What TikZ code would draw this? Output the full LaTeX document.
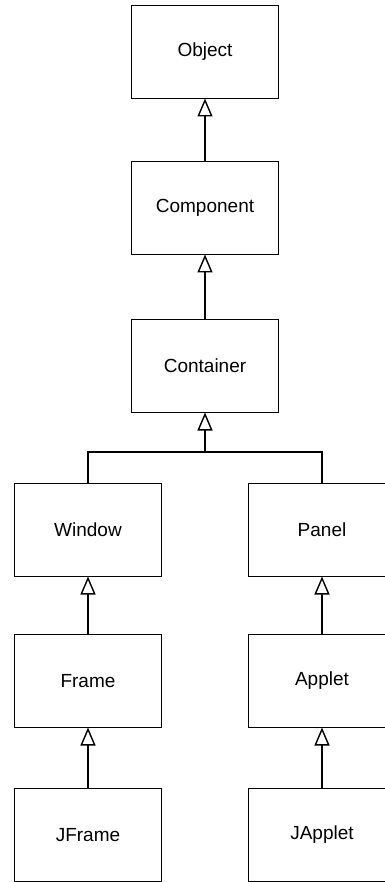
\documentclass[tikz,border=0pt]{standalone}
\usepackage{fontspec}
\setmainfont{Liberation Sans}
\usetikzlibrary{arrows.meta, positioning}
\tikzset{
    cls/.style={draw, rectangle, line width=1.4pt, minimum width=147pt, minimum height=93pt, inner sep=0pt, outer sep=0pt, font=\fontsize{19}{22}\selectfont},
    inherit/.style={-{Triangle[open, length=18pt, width=15pt, line width=1.4pt]}, line width=1.4pt}
}

\begin{document}
\begin{tikzpicture}[x=1pt, y=-1pt, node distance=63pt and 60pt]

    \useasboundingbox (0,0) rectangle (384,882);

    % main column
    \node[cls] (object) at (205,52) {Object};
    \node[cls, below=63pt of object] (component) {Component};
    \node[cls, below=65pt of component] (container) {Container};

    % left and right branches
    \node[cls] (window) at (88,530) {Window};
    \node[cls] (panel) at (322,530) {Panel};
    \node[cls, below=58pt of window] (frame) {Frame};
    \node[cls, below=58pt of panel] (applet) {Applet};
    \node[cls, below=61pt of frame] (jframe) {JFrame};
    \node[cls, below=61pt of applet] (japplet) {JApplet};

    % inheritance
    \draw[inherit] (component) -- (object);
    \draw[inherit] (container) -- (component);

    \coordinate (join) at (205,452);
    \draw[line width=1.4pt] (window.north) |- (join) -| (panel.north);
    \draw[inherit] (join) -- (container.south);

    \draw[inherit] (frame) -- (window);
    \draw[inherit] (jframe) -- (frame);
    \draw[inherit] (applet) -- (panel);
    \draw[inherit] (japplet) -- (applet);

\end{tikzpicture}
\end{document}
